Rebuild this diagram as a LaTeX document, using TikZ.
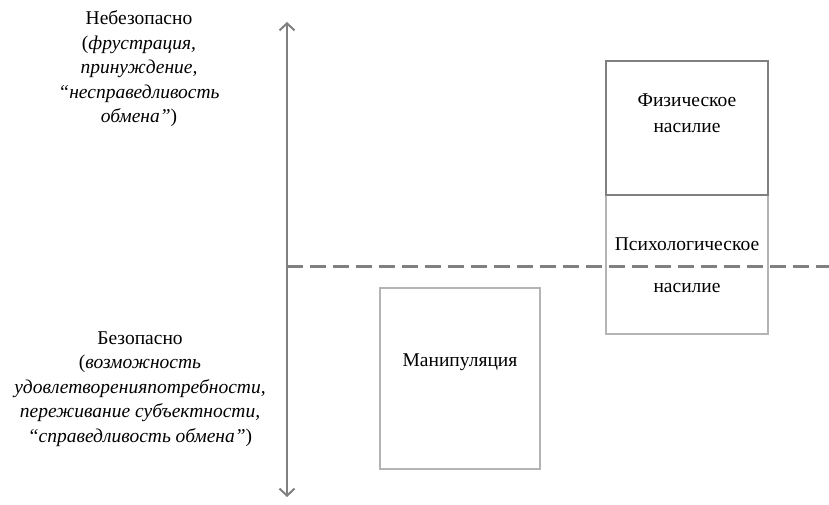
\documentclass[tikz,border=0pt]{standalone}
\usepackage{fontspec}
\setmainfont{Liberation Serif}
\usetikzlibrary{arrows.meta}
\definecolor{axisgray}{HTML}{808080}
\definecolor{boxgray}{HTML}{B4B4B4}

\begin{document}
\begin{tikzpicture}[x=1pt, y=-1pt,
    lbl/.style={align=center, inner sep=0pt, font=\fontsize{19.5}{24.5}\selectfont},
    box/.style={draw=boxgray, line width=1.2pt, inner sep=0pt},
    axis/.style={draw=axisgray, line width=2pt}]
  \useasboundingbox (0,0) rectangle (829,505);

  \coordinate (top) at (287,22);
  \coordinate (bot) at (287,497);
  \coordinate (d1) at (287,266);
  \coordinate (d2) at (829,266);

  \node (unsafe) [lbl, anchor=base] at (139,123) {Небезопасно\\
    (\textit{фрустрация,}\\
    \textit{принуждение,}\\
    \textit{“несправедливость}\\
    \textit{обмена”})};

  \node (safe) [lbl, anchor=base] at (140,442) {Безопасно\\
    (\textit{возможность}\\
    \textit{удовлетворенияпотребности,}\\
    \textit{переживание субъектности,}\\
    \textit{“справедливость обмена”})};

  \node (psych) [box, minimum width=162, minimum height=139] at (687,264.5) {};
  \node (phys) [box, draw=axisgray, minimum width=162, minimum height=134] at (687,128) {};
  \node (manip) [box, minimum width=160, minimum height=181] at (460,378.5) {};

  \node (physt) [lbl, anchor=base] at (687,133) {Физическое\\[1.5pt]насилие};
  \node (psycht) [lbl, anchor=base] at (687,292) {Психологическое\\[17.5pt]насилие};
  \node (manipt) [lbl, anchor=base] at (460,366) {Манипуляция};

  \draw[axis, {Straight Barb[length=7pt,width=15pt]}-{Straight Barb[length=7pt,width=15pt]}] (bot) -- (top);
  \draw[axis, line width=3pt, dash pattern=on 16pt off 7pt] (d1) -- (d2);
\end{tikzpicture}
\end{document}
